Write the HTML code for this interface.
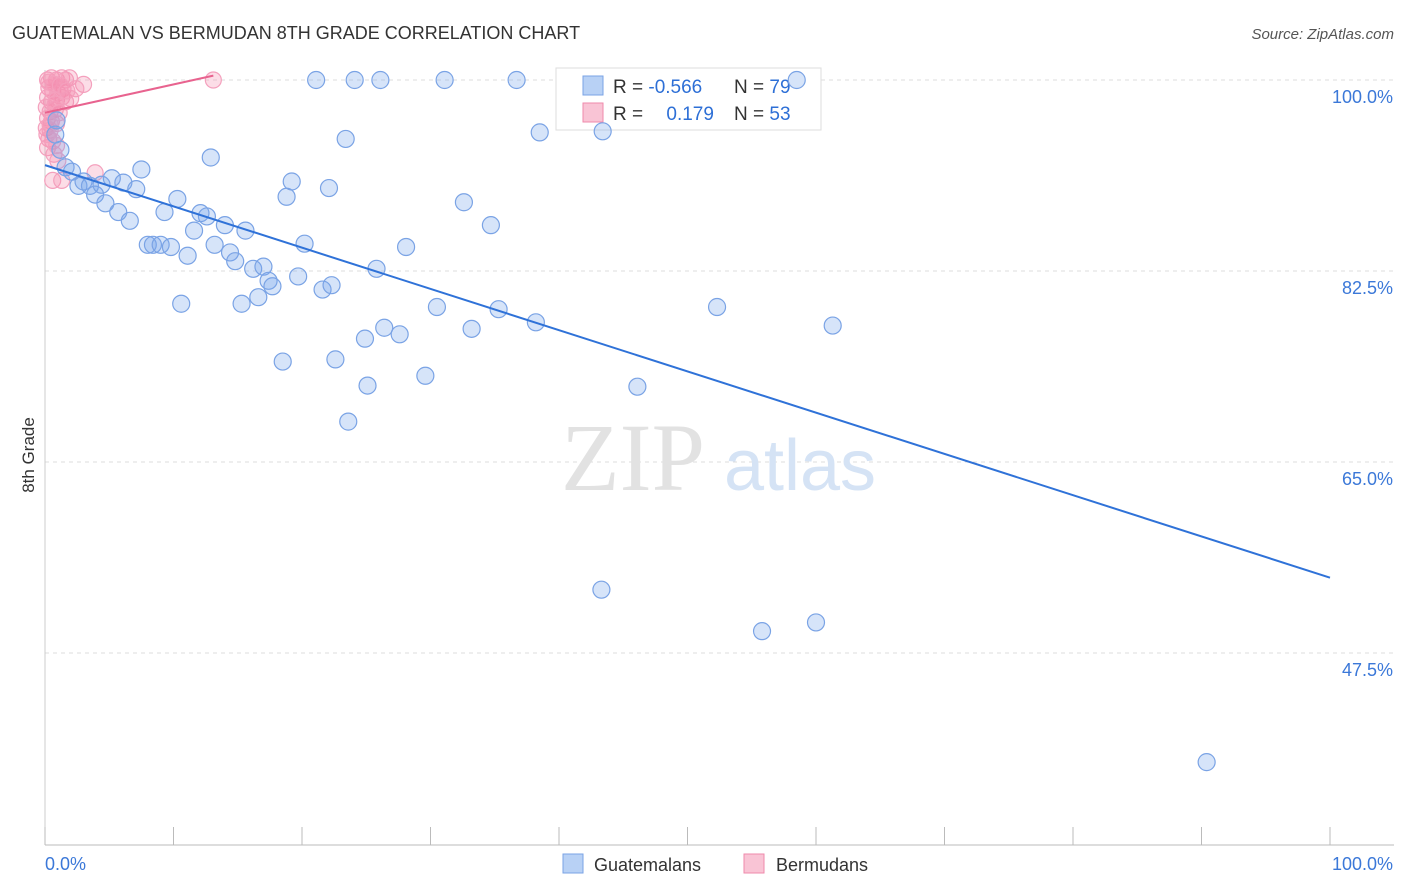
<!DOCTYPE html>
<html><head><meta charset="utf-8"><style>
body{margin:0;background:#fff;font-family:"Liberation Sans",sans-serif;}
svg{display:block}
</style></head><body>
<svg id="chart" width="1406" height="892">
<text x="12" y="39" font-size="18" fill="#333">GUATEMALAN VS BERMUDAN 8TH GRADE CORRELATION CHART</text>
<text x="1394" y="39" font-size="15" fill="#555" font-style="italic" text-anchor="end">Source: ZipAtlas.com</text>
<text x="0" y="0" transform="translate(34,455) rotate(-90)" font-size="17" fill="#333" text-anchor="middle">8th Grade</text>
<g id="grid"></g>
<g>
<text x="633" y="490" font-size="96" font-family="Liberation Serif" fill="#e2e2e2" text-anchor="middle">ZIP</text>
<text x="800" y="490" font-size="72" fill="#d5e3f5" text-anchor="middle">atlas</text>
</g>
<g>
<rect x="556" y="68" width="265" height="62" fill="#fff" stroke="#ddd"/>
<rect x="583" y="76" width="20" height="19" fill="#b8d1f5" stroke="#7aa3e5"/>
<rect x="583" y="103" width="20" height="19" fill="#f9c4d5" stroke="#ef8aab"/>
<text x="613" y="93" font-size="19" fill="#333">R = <tspan fill="#2d6fd6">-0.566</tspan></text>
<text x="734" y="93" font-size="19" fill="#333">N = <tspan fill="#2d6fd6">79</tspan></text>
<text x="613" y="120" font-size="19" fill="#333">R = <tspan fill="#2d6fd6" dx="18">0.179</tspan></text>
<text x="734" y="120" font-size="19" fill="#333">N = <tspan fill="#2d6fd6">53</tspan></text>
</g>
<g id="marks"></g>
<g>
<rect x="563" y="854" width="20" height="19" fill="#b8d1f5" stroke="#7aa3e5"/>
<text x="594" y="871" font-size="18" fill="#333">Guatemalans</text>
<rect x="744" y="854" width="20" height="19" fill="#f9c4d5" stroke="#ef8aab"/>
<text x="776" y="871" font-size="18" fill="#333">Bermudans</text>
</g>
</svg>
<script>
const xTickVals=[0,10,20,30,40,50,60,70,80,90,100];
const yTickVals=[100,82.5,65,47.5];
const yTickLabels=["100.0%","82.5%","65.0%","47.5%"];
const blueX=[21.1,24.1,26.1,31.1,36.7,58.5,38.5,43.4,23.4,12.9,1.2,0.9,0.8,1.6,2.1,2.6,3.0,3.5,3.9,4.4,4.7,5.2,5.7,6.1,6.6,7.1,7.5,8.0,8.4,9.0,9.3,9.8,10.3,10.6,11.1,11.6,12.1,12.6,13.2,14.0,14.4,14.8,15.3,15.6,16.2,16.6,17.0,17.4,17.7,18.5,18.8,19.2,19.7,20.2,21.6,22.3,22.1,22.6,23.6,24.9,25.1,25.8,26.4,27.6,28.1,29.6,30.5,32.6,33.2,34.7,35.3,38.2,43.3,46.1,52.3,55.8,60.0,61.3,90.4];
const blueY=[100,100,100,100,100,100,95.2,95.3,94.6,92.9,93.6,96.3,95.0,92.0,91.6,90.3,90.7,90.3,89.5,90.4,88.7,91.0,87.9,90.6,87.1,90.0,91.8,84.9,84.9,84.9,87.9,84.7,89.1,79.5,83.9,86.2,87.8,87.5,84.9,86.7,84.2,83.4,79.5,86.2,82.7,80.1,82.9,81.6,81.1,74.2,89.3,90.7,82.0,85.0,80.8,81.2,90.1,74.4,68.7,76.3,72.0,82.7,77.3,76.7,84.7,72.9,79.2,88.8,77.2,86.7,79.0,77.8,53.3,71.9,79.2,49.5,50.3,77.5,37.5];
const pinkX=[0.2,0.5,0.9,1.3,1.6,1.9,3.0,2.4,0.3,0.6,1.0,1.4,0.2,0.5,0.9,1.3,1.6,0.1,0.4,0.8,0.2,0.5,0.9,0.1,0.4,0.3,0.6,0.2,0.7,1.0,0.6,1.3,3.9,0.3,0.7,1.2,0.8,1.1,0.4,0.15,2.0,1.7,0.9,13.1];
const pinkY=[100,100.2,100,100.2,100,100.2,99.6,99.2,99.3,99.0,98.8,99.2,98.4,98.0,98.2,98.4,98.0,97.5,97.1,97.3,96.5,96.2,96.0,95.6,95.4,94.6,94.4,93.8,93.2,92.6,90.8,90.8,91.5,99.8,99.6,99.5,97.8,97.0,95.9,95.0,98.3,99.0,94.0,100];
const blueTrend=[92.2,54.4];
const pinkTrend=[97.0,100.4];
const pinkTrendEnd=13.1;
const X=v=>45+v*12.85;
const Y=v=>80+(100-v)*10.914;
const NS="http://www.w3.org/2000/svg";
function mk(t,a,p){const e=document.createElementNS(NS,t);for(const k in a)e.setAttribute(k,a[k]);p.appendChild(e);return e;}
const grid=document.getElementById('grid'),marks=document.getElementById('marks');
yTickVals.forEach((v,i)=>{
 const l=mk('line',{x1:45,x2:1394,y1:Y(v),y2:Y(v),stroke:'#ddd','stroke-dasharray':'4,4'},grid);
 
 
 const t=mk('text',{x:1393,y:Y(v)+23,'font-size':18,fill:'#3b78d8','text-anchor':'end'},grid);
 t.textContent=yTickLabels[i];
 
 
});
const ax=mk('line',{x1:45,x2:1394,y1:845,y2:845,stroke:'#bbb'},grid);


const ay=mk('line',{x1:45,x2:45,y1:70,y2:845,stroke:'#ccc'},grid);


xTickVals.forEach(v=>{
 const l=mk('line',{x1:X(v),x2:X(v),y1:827,y2:845,stroke:'#bbb'},grid);
 
 
});
const xl0=mk('text',{x:45,y:870,'font-size':18,fill:'#3b78d8'},grid);xl0.textContent=xTickVals[0].toFixed(1)+'%';


const xl1=mk('text',{x:1393,y:870,'font-size':18,fill:'#3b78d8','text-anchor':'end'},grid);xl1.textContent=xTickVals[10].toFixed(1)+'%';


pinkX.forEach((x,i)=>{
 const c=mk('circle',{cx:X(x),cy:Y(pinkY[i]),r:8,fill:'rgba(244,143,177,0.3)',stroke:'#f4a0bd','stroke-width':1.2},marks);
 
 
});
blueX.forEach((x,i)=>{
 const c=mk('circle',{cx:X(x),cy:Y(blueY[i]),r:8.5,fill:'rgba(120,165,235,0.3)',stroke:'#7aa3e5','stroke-width':1.2},marks);
 
 
});
const bl=mk('line',{x1:X(0),y1:Y(blueTrend[0]),x2:X(100),y2:Y(blueTrend[1]),stroke:'#2f72d8','stroke-width':2},marks);


const pl=mk('line',{x1:X(0),y1:Y(pinkTrend[0]),x2:X(pinkTrendEnd),y2:Y(pinkTrend[1]),stroke:'#e8638f','stroke-width':2},marks);


</script>
</body></html>
